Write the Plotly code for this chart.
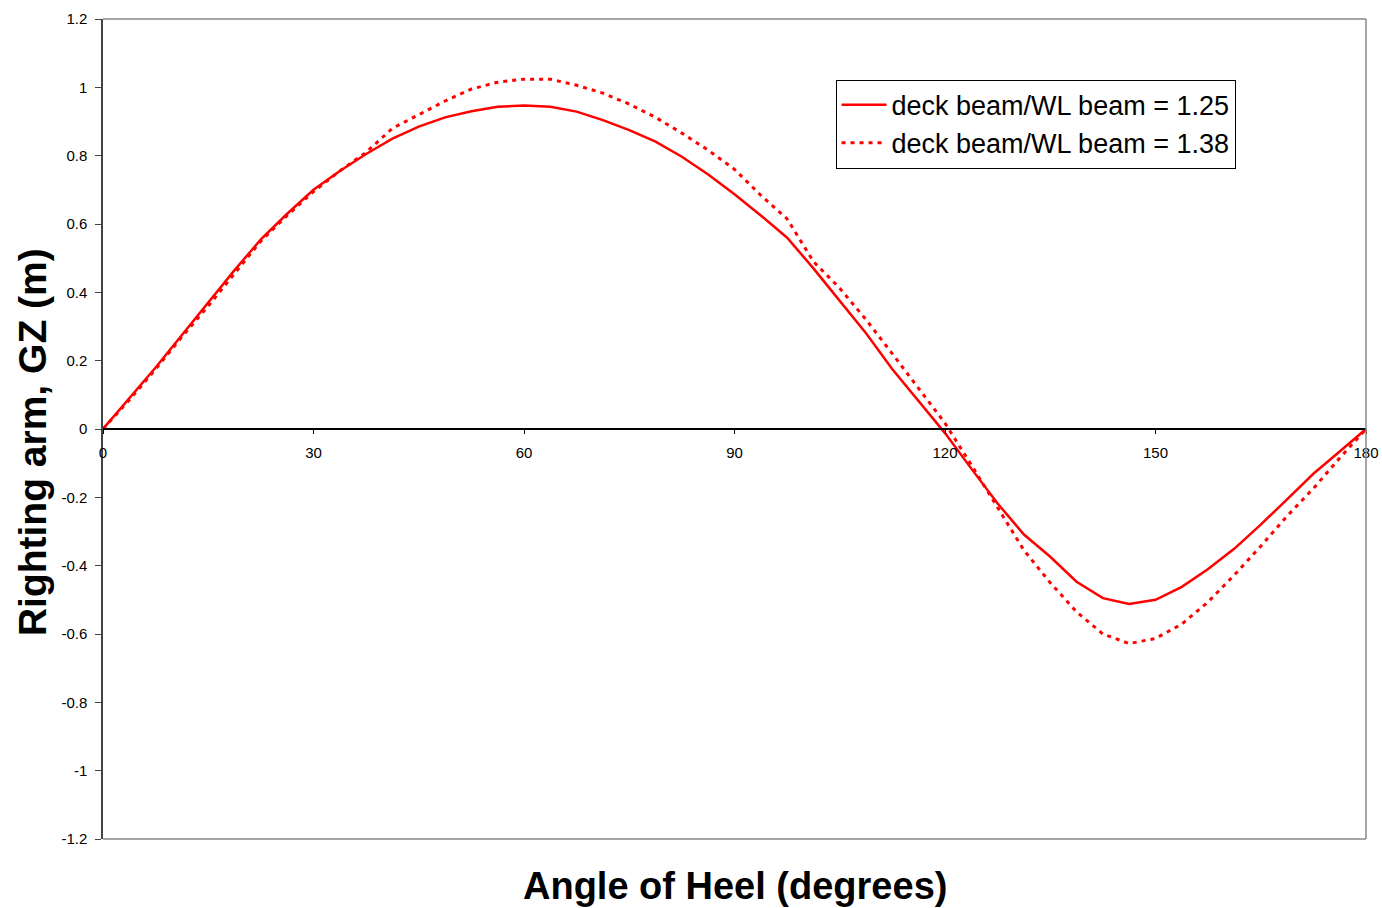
import plotly.graph_objects as go

angles = [0, 3.75, 7.5, 11.25, 15, 18.75, 22.5, 26.25, 30, 33.75, 37.5, 41.25, 45, 48.75,
          52.5, 56.25, 60, 63.75, 67.5, 71.25, 75, 78.75, 82.5, 86.25, 90, 93.75, 97.5,
          101.25, 105, 108.75, 112.5, 116.25, 120, 123.75, 127.5, 131.25, 135, 138.75,
          142.5, 146.25, 150, 153.75, 157.5, 161.25, 165, 168.75, 172.5, 176.25, 180]

gz_125 = [0, 0.09, 0.18, 0.275, 0.37, 0.465, 0.555, 0.63, 0.70, 0.755, 0.805, 0.85, 0.885,
          0.912, 0.93, 0.943, 0.947, 0.943, 0.929, 0.904, 0.875, 0.841, 0.797, 0.745, 0.687,
          0.625, 0.56, 0.47, 0.375, 0.28, 0.175, 0.08, -0.012, -0.116, -0.218, -0.309,
          -0.374, -0.447, -0.495, -0.512, -0.50, -0.462, -0.41, -0.35, -0.28, -0.206,
          -0.131, -0.066, 0]

gz_138 = [0, 0.085, 0.175, 0.27, 0.36, 0.455, 0.55, 0.625, 0.695, 0.755, 0.81, 0.88, 0.92,
          0.96, 0.995, 1.015, 1.024, 1.024, 1.006, 0.983, 0.951, 0.912, 0.866, 0.816, 0.76,
          0.684, 0.615, 0.49, 0.412, 0.32, 0.22, 0.12, 0.017, -0.105, -0.23, -0.355,
          -0.45, -0.535, -0.60, -0.628, -0.613, -0.571, -0.506, -0.427, -0.343, -0.255,
          -0.174, -0.085, 0]

names = ["deck beam/WL beam = 1.25", "deck beam/WL beam = 1.38"]

x_ticks = [0, 30, 60, 90, 120, 150, 180]
y_ticks = [-1.2, -1.0, -0.8, -0.6, -0.4, -0.2, 0, 0.2, 0.4, 0.6, 0.8, 1.0, 1.2]
y_tick_text = ["-1.2", "-1", "-0.8", "-0.6", "-0.4", "-0.2", "0", "0.2", "0.4", "0.6",
               "0.8", "1", "1.2"]

x_title = "Angle of Heel (degrees)"
y_title = "Righting arm, GZ (m)"

fig = go.Figure()
fig.add_trace(go.Scatter(x=angles, y=gz_125, mode="lines", name=names[0],
                         line=dict(color="#FF0000", width=2.5)))
fig.add_trace(go.Scatter(x=angles, y=gz_138, mode="lines", name=names[1],
                         line=dict(color="#FF0000", width=3, dash="4px,5px")))

# frame (top, right, bottom)
frame = dict(type="line", xref="paper", yref="paper", line=dict(color="#888888", width=1.5))
fig.add_shape(x0=0, x1=1, y0=1, y1=1, **frame)
fig.add_shape(x0=1, x1=1, y0=0, y1=1, **frame)
fig.add_shape(x0=0, x1=1, y0=0, y1=0, **frame)

fig.update_layout(
    width=1382, height=908,
    margin=dict(l=103, r=16, t=19, b=69),
    paper_bgcolor="white", plot_bgcolor="white",
    font=dict(family="Arial, Liberation Sans, sans-serif", color="black"),
    showlegend=True,
    legend=dict(x=0.58, y=0.926, xanchor="left", yanchor="top",
                bordercolor="black", borderwidth=1, bgcolor="white",
                font=dict(size=27, family="Arial, Liberation Sans, sans-serif"),
                tracegroupgap=0, itemwidth=45),
    xaxis=dict(range=[0, 180], tickvals=x_ticks, ticktext=[str(v) for v in x_ticks],
               showgrid=False, zeroline=False, showline=True, linecolor="black",
               linewidth=1.5, ticks="outside", ticklen=4, tickcolor="black",
               ticklabelstandoff=6, tickfont=dict(size=15),
               anchor="free", position=0.5, automargin=False),
    yaxis=dict(range=[-1.2, 1.2], tickvals=y_ticks, ticktext=y_tick_text,
               showgrid=False, zeroline=False, showline=True, linecolor="#444444",
               linewidth=1.5, ticks="outside", ticklen=6, tickcolor="#444444",
               ticklabelstandoff=5, tickfont=dict(size=15), automargin=False),
    annotations=[
        dict(text="<b>" + x_title + "</b>", xref="paper", yref="paper",
             x=(735 - 103) / 1263, y=-0.057, xanchor="center", yanchor="middle",
             showarrow=False, font=dict(size=38)),
        dict(text="<b>" + y_title + "</b>", xref="paper", yref="paper",
             x=(32 - 103) / 1263, y=0.484, xanchor="center", yanchor="middle",
             textangle=-90, showarrow=False, font=dict(size=39)),
    ],
)

fig.write_html("out.html")
